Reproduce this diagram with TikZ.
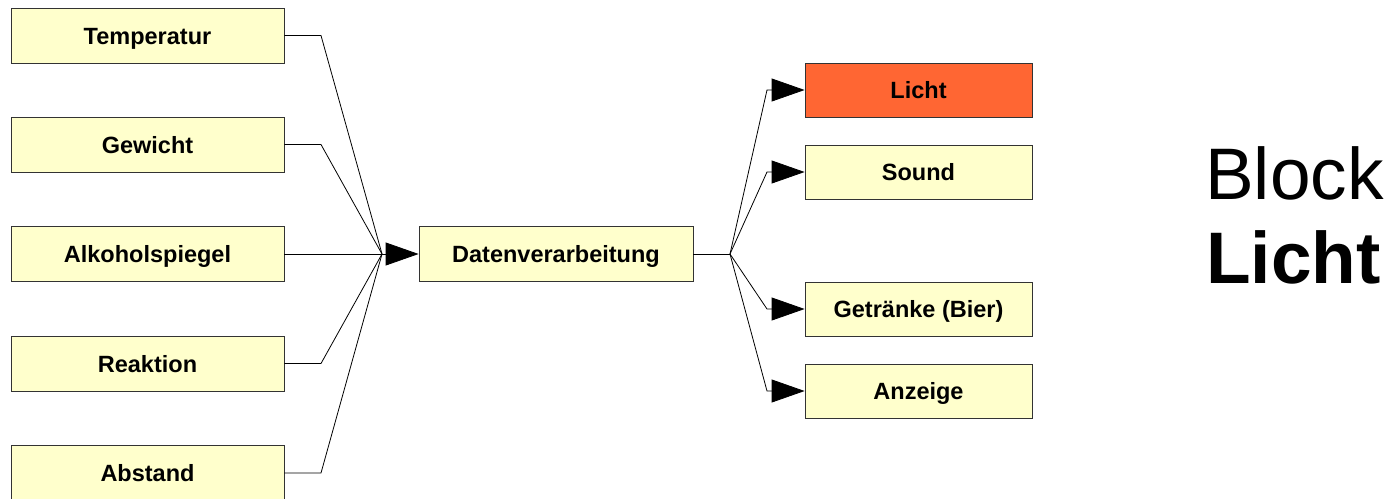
\documentclass[tikz,border=0pt]{standalone}
\usepackage{fontspec}
\setmainfont{Liberation Sans}
\usetikzlibrary{arrows.meta}
\definecolor{boxfill}{HTML}{FFFFCC}
\definecolor{boxline}{HTML}{333333}
\definecolor{hotfill}{HTML}{FF6633}
\begin{document}
\begin{tikzpicture}[x=1pt,y=-1pt,
  box/.style={draw=boxline, fill=boxfill, line width=0.8pt, minimum height=55pt, inner sep=0pt,
    text height=17pt, text depth=0pt,
    font=\fontsize{23.5}{28}\selectfont\bfseries},
  lbox/.style={box, minimum width=273pt},
  mbox/.style={box, minimum width=274pt},
  rbox/.style={box, minimum width=227pt, minimum height=54pt},
  conn/.style={draw=black, line width=0.8pt},
  tip/.style={-{Triangle[length=33pt,width=23pt]}},
  bigtext/.style={anchor=base west, inner sep=0pt, font=\fontsize{73}{80}\selectfont}
]
\useasboundingbox (0,0) rectangle (1394,498);

% left inputs
\node[lbox] (temp) at (147.5,35.5) {Temperatur};
\node[lbox] (gew)  at (147.5,144.5) {Gewicht};
\node[lbox] (alk)  at (147.5,254) {Alkoholspiegel};
\node[lbox] (rea)  at (147.5,363.5) {Reaktion};
\node[lbox] (abs)  at (147.5,473) {Abstand};

% processing
\node[mbox] (dat) at (556,254) {Datenverarbeitung};

% outputs
\node[rbox, fill=hotfill] (licht) at (918.5,90) {Licht};
\node[rbox] (sound) at (918.5,172) {Sound};
\node[rbox] (bier)  at (918.5,309) {Getränke (Bier)};
\node[rbox] (anz)   at (918.5,391) {Anzeige};

% title
\node[bigtext] (block) at (1205,199) {Block};
\node[bigtext, font=\fontsize{73}{80}\selectfont\bfseries] (blicht) at (1206,283) {Licht};

% connector points
\coordinate (hub)  at (382,254);
\coordinate (hub2) at (730,254);
\coordinate (kT) at (321,35.5);
\coordinate (kG) at (321,144.5);
\coordinate (kR) at (321,363.5);
\coordinate (kA) at (321,473);
\coordinate (kL) at (767,90);
\coordinate (kS) at (767,172);
\coordinate (kB) at (767,309);
\coordinate (kZ) at (767,391);

% inputs to hub
\draw[conn] (temp.east) -- (kT) -- (hub);
\draw[conn] (gew.east) -- (kG) -- (hub);
\draw[conn] (alk.east) -- (hub);
\draw[conn] (rea.east) -- (kR) -- (hub);
\draw[conn] (abs.east) -- (kA) -- (hub);
\draw[conn, tip] (hub) -- (dat.west);

% outputs
\draw[conn] (dat.east) -- (hub2);
\draw[conn, tip] (hub2) -- (kL) -- (licht.west);
\draw[conn, tip] (hub2) -- (kS) -- (sound.west);
\draw[conn, tip] (hub2) -- (kB) -- (bier.west);
\draw[conn, tip] (hub2) -- (kZ) -- (anz.west);
\end{tikzpicture}
\end{document}
